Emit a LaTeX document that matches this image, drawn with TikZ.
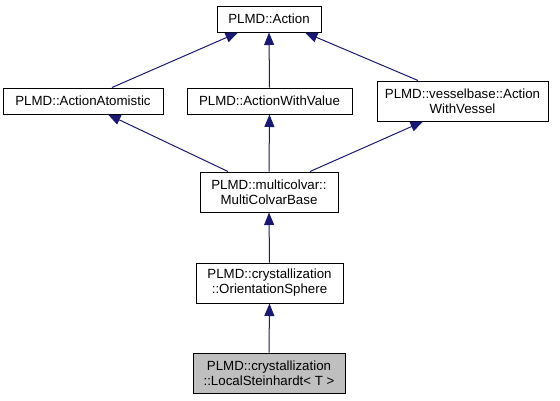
\documentclass[tikz,border=0pt]{standalone}
\usepackage{fontspec}
\setmainfont{Liberation Sans}
\usetikzlibrary{arrows.meta}
\definecolor{edgeblue}{HTML}{191970}
\definecolor{grayfill}{HTML}{BFBFBF}
\tikzset{
  cls/.style={draw=black, line width=1pt, fill=white, inner sep=0pt, align=center,
    font=\fontsize{13.3}{15}\selectfont},
  cur/.style={cls, fill=grayfill},
  inh/.style={draw=edgeblue, line width=1pt, -{Triangle[length=12.5pt,width=10pt]}},
}
\begin{document}
\begin{tikzpicture}[x=1pt,y=-1pt]
\useasboundingbox (0,0) rectangle (560,400);
\node[cls, minimum width=104pt, minimum height=26pt] (act) at (269,19) {PLMD::Action};
\node[cls, minimum width=160pt, minimum height=26pt] (aa) at (83,101) {PLMD::ActionAtomistic};
\node[cls, minimum width=165pt, minimum height=26pt] (awv) at (269.5,101) {PLMD::ActionWithValue};
\node[cls, minimum width=171pt, minimum height=40pt] (vwv) at (462.5,101) {PLMD::vesselbase::Action\\WithVessel};
\node[cls, minimum width=138pt, minimum height=40pt] (mcb) at (269,192) {PLMD::multicolvar::\\MultiColvarBase};
\node[cls, minimum width=147pt, minimum height=40pt] (os) at (269.5,283) {PLMD::crystallization\\::OrientationSphere};
\node[cur, minimum width=152pt, minimum height=40pt] (ls) at (269,373) {PLMD::crystallization\\::LocalSteinhardt\texttt{}< T >};
\draw[inh] ([xshift=29pt]aa.north) -- ([xshift=-31pt]act.south);
\draw[inh] (awv.north) -- (act.south);
\draw[inh] ([xshift=-44.5pt]vwv.north) -- ([xshift=36pt]act.south);
\draw[inh] ([xshift=-41pt]mcb.north) -- ([xshift=25pt]aa.south);
\draw[inh] (mcb.north) -- (awv.south);
\draw[inh] ([xshift=41pt]mcb.north) -- ([xshift=-39.5pt]vwv.south);
\draw[inh] (os.north) -- (mcb.south);
\draw[inh] (ls.north) -- (os.south);
\end{tikzpicture}
\end{document}
